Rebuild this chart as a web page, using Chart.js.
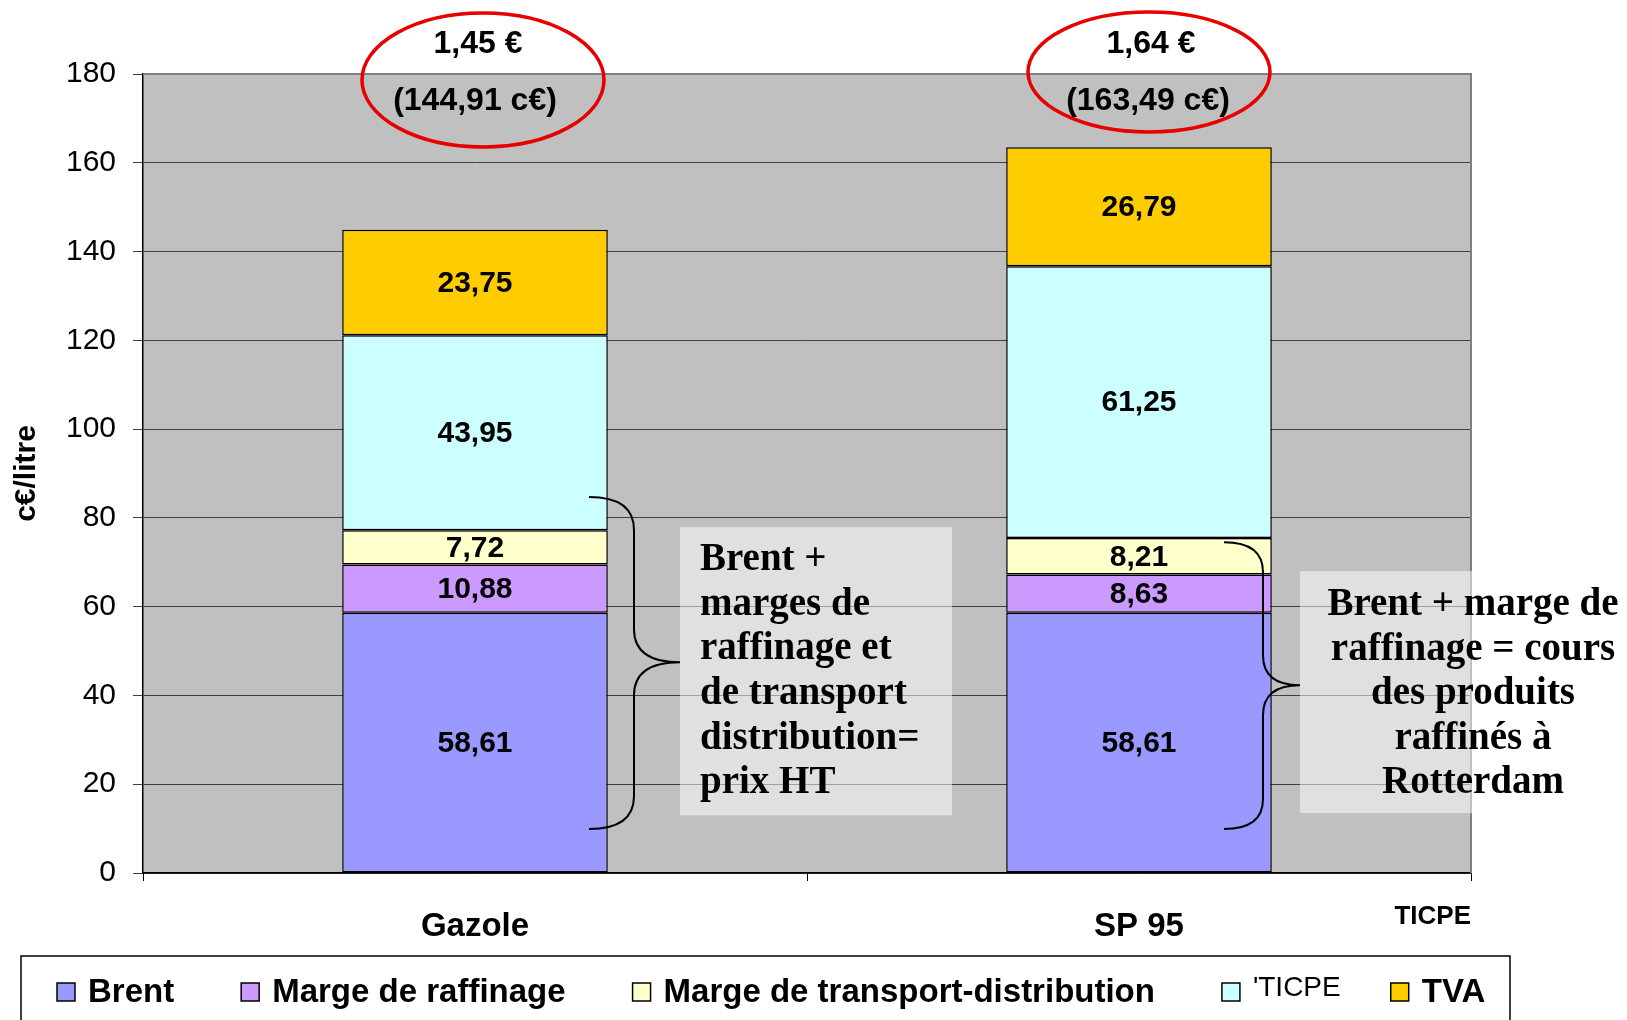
<!DOCTYPE html>
<html>
<head>
<meta charset="utf-8">
<script src="https://cdn.jsdelivr.net/npm/chart.js@4.4.1/dist/chart.umd.min.js"></script>
<style>
  html, body { margin: 0; padding: 0; background: #fff; }
  #wrap { width: 1627px; height: 1020px; }
</style>
</head>
<body>
<div id="wrap"><canvas id="prixChart" width="1627" height="1020"></canvas></div>
<script>
// données (c€/litre)
const categories = ['Gazole', 'SP 95'];
const seriesNames = ['Brent', 'Marge de raffinage', 'Marge de transport-distribution', 'TICPE', 'TVA'];
const legendLabels = ['Brent', 'Marge de raffinage', 'Marge de transport-distribution', "'TICPE", 'TVA'];
const brent = [58.61, 58.61];
const margeRaffinage = [10.88, 8.63];
const margeTransport = [7.72, 8.21];
const ticpe = [43.95, 61.25];
const tva = [23.75, 26.79];
const totalEuros = ['1,45 €', '1,64 €']; // prix affichés au litre
const seriesColors = ['#9999FF', '#CC99FF', '#FFFFCC', '#CCFFFF', '#FFCC00'];
const yMin = 0;
const yMax = 180;
const yStep = 20;

const note1 = ['Brent +', 'marges de', 'raffinage et', 'de transport', 'distribution=', 'prix HT'];
const note2 = ['Brent + marge de', 'raffinage = cours', 'des produits', 'raffinés à', 'Rotterdam'];

const sans = "'Liberation Sans', Arial, sans-serif";
const serif = "'Liberation Serif', 'Times New Roman', serif";

function fmt(v) {
    return v.toFixed(2).replace('.', ','); // virgule décimale
}

const allSeries = [brent, margeRaffinage, margeTransport, ticpe, tva];

// fond gris de la zone de tracé
const plotBackground = {
    id: 'plotBackground',
    beforeDraw(chart) {
        const { ctx, chartArea: a } = chart;
        ctx.save();
        ctx.fillStyle = '#C0C0C0';
        ctx.fillRect(a.left, a.top, a.right - a.left, a.bottom - a.top);
        ctx.restore();
    },
    beforeDatasetsDraw(chart) {
        const { ctx, chartArea: a } = chart;
        ctx.save();
        ctx.strokeStyle = '#808080';
        ctx.lineWidth = 2;
        ctx.beginPath();
        ctx.moveTo(a.left, a.top);
        ctx.lineTo(a.right, a.top);
        ctx.lineTo(a.right, a.bottom);
        ctx.stroke();
        ctx.restore();
    }
};

// valeurs au milieu des segments
const segmentLabels = {
    id: 'segmentLabels',
    afterDatasetsDraw(chart) {
        const ctx = chart.ctx;
        ctx.save();
        ctx.font = 'bold 30px ' + sans;
        ctx.fillStyle = '#000';
        ctx.textAlign = 'center';
        ctx.textBaseline = 'middle';
        chart.data.datasets.forEach((ds, i) => {
            chart.getDatasetMeta(i).data.forEach((bar, j) => {
                const p = bar.getProps(['x', 'y', 'base'], true);
                ctx.fillText(fmt(ds.data[j]), p.x, (p.y + p.base) / 2 + 1);
            });
        });
        ctx.restore();
    }
};

function drawBrace(ctx, xEnd, xMid, xTip, yTop, yTip, yBot, h) {
    ctx.beginPath();
    ctx.moveTo(xEnd, yTop);
    ctx.quadraticCurveTo(xMid, yTop, xMid, yTop + h);
    ctx.lineTo(xMid, yTip - h);
    ctx.quadraticCurveTo(xMid, yTip, xTip, yTip);
    ctx.quadraticCurveTo(xMid, yTip, xMid, yTip + h);
    ctx.lineTo(xMid, yBot - h);
    ctx.quadraticCurveTo(xMid, yBot, xEnd, yBot);
    ctx.stroke();
}

// annotations : totaux entourés, accolades, encadrés, légende
const annotations = {
    id: 'annotations',
    afterDraw(chart) {
        const { ctx, scales: { x, y } } = chart;
        ctx.save();

        // totaux en haut
        categories.forEach((c, j) => {
            const total = allSeries.reduce((s, arr) => s + arr[j], 0);
            const cx = x.getPixelForValue(j);
            ctx.strokeStyle = '#E60000';
            ctx.lineWidth = 3.5;
            ctx.beginPath();
            ctx.ellipse(cx + 8 + j * 2, j === 0 ? 80 : 72, 121, j === 0 ? 67 : 60, 0, 0, Math.PI * 2);
            ctx.stroke();
            ctx.fillStyle = '#000';
            ctx.font = 'bold 32px ' + sans;
            ctx.textAlign = 'center';
            ctx.textBaseline = 'middle';
            ctx.fillText(totalEuros[j], cx + 3 + j * 9, 44);
            ctx.fillText('(' + fmt(total) + ' c€)', cx + j * 9, 101);
        });

        // encadrés semi-transparents
        const x0 = x.getPixelForValue(0);
        const x1 = x.getPixelForValue(1);
        ctx.fillStyle = 'rgba(255,255,255,0.5)';
        ctx.fillRect(x0 + 205, y.getPixelForValue(77.9), 272, y.getPixelForValue(13) - y.getPixelForValue(77.9));
        ctx.fillRect(x1 + 161, y.getPixelForValue(68), 400, y.getPixelForValue(13.5) - y.getPixelForValue(68));

        ctx.fillStyle = '#000';
        ctx.font = 'bold 39px ' + serif;
        ctx.textBaseline = 'middle';
        ctx.textAlign = 'left';
        note1.forEach((t, k) => ctx.fillText(t, x0 + 225, y.getPixelForValue(70.5) + k * 44.6));
        ctx.textAlign = 'center';
        note2.forEach((t, k) => ctx.fillText(t, x1 + 334, y.getPixelForValue(60.4) + k * 44.6));

        // accolades
        ctx.strokeStyle = '#000';
        ctx.lineWidth = 2;
        drawBrace(ctx, x0 + 114, x0 + 159, x0 + 205,
            y.getPixelForValue(84.7), y.getPixelForValue(47.5), y.getPixelForValue(9.9), 33);
        drawBrace(ctx, x1 + 85, x1 + 124, x1 + 161,
            y.getPixelForValue(74.5), y.getPixelForValue(42.3), y.getPixelForValue(9.9), 30);

        // libellé isolé sous l'axe
        ctx.font = 'bold 26px ' + sans;
        ctx.textAlign = 'right';
        ctx.fillText('TICPE', x.right, 917);

        // légende encadrée
        ctx.lineWidth = 1.5;
        ctx.strokeRect(21, 956, 1489, 100);
        let lx = 57;
        const ly = 993;
        legendLabels.forEach((t, i) => {
            ctx.fillStyle = seriesColors[i];
            ctx.fillRect(lx, ly - 10, 18, 18);
            ctx.strokeStyle = '#000';
            ctx.lineWidth = 1.5;
            ctx.strokeRect(lx, ly - 10, 18, 18);
            ctx.fillStyle = '#000';
            ctx.font = (i === 3 ? '28px ' : 'bold 33px ') + sans;
            ctx.textAlign = 'left';
            ctx.textBaseline = 'middle';
            ctx.fillText(t, lx + 31, ly + (i === 3 ? -5 : 0));
            lx += 31 + ctx.measureText(t).width + (i === 3 ? 50 : 67);
        });
        ctx.restore();
    }
};

const ctx = document.getElementById('prixChart').getContext('2d');
new Chart(ctx, {
    type: 'bar',
    data: {
        labels: categories,
        datasets: allSeries.map((arr, i) => ({
            label: seriesNames[i],
            data: arr,
            backgroundColor: seriesColors[i],
            borderColor: '#000',
            borderWidth: 1.5,
            borderSkipped: false,
            barPercentage: 0.4,
            categoryPercentage: 1
        }))
    },
    options: {
        responsive: false,
        devicePixelRatio: 1,
        animation: false,
        layout: { padding: { left: 0, right: 156, top: 74, bottom: 67 } },
        plugins: {
            legend: { display: false },
            tooltip: { enabled: false }
        },
        scales: {
            x: {
                stacked: true,
                offset: true,
                grid: { display: true, drawOnChartArea: false, offset: true, tickLength: 8, color: '#000' },
                border: { color: '#000', width: 1.5 },
                ticks: { color: '#000', font: { family: sans, size: 33, weight: 'bold' }, padding: 26 },
                afterFit: s => { s.height = 80; }
            },
            y: {
                stacked: true,
                min: yMin,
                max: yMax,
                grid: { color: '#404040', lineWidth: 1, tickLength: 10 },
                border: { color: '#000', width: 1.5 },
                ticks: { stepSize: yStep, color: '#000', font: { family: sans, size: 30 }, padding: 17 },
                title: {
                    display: true,
                    text: 'c€/litre',
                    color: '#000',
                    font: { family: sans, size: 30, weight: 'bold' },
                    padding: { top: 9, bottom: 4 }
                },
                afterFit: s => { s.width = 143; }
            }
        }
    },
    plugins: [plotBackground, segmentLabels, annotations]
});
</script>
</body>
</html>
